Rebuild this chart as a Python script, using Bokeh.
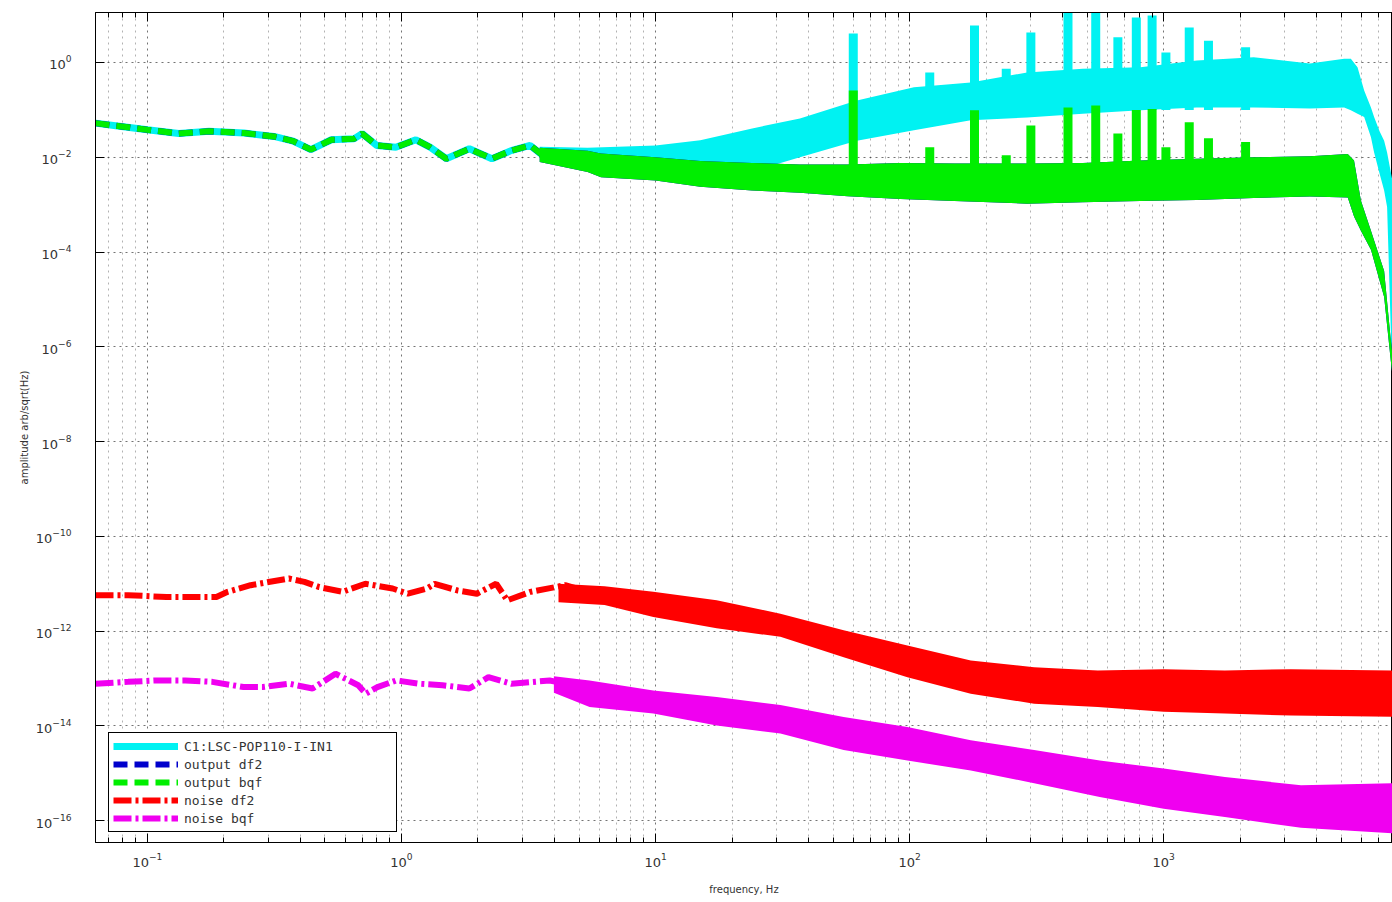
from bokeh.plotting import figure
from bokeh.models import (LogAxis, FixedTicker, CustomJSTickFormatter, LogTickFormatter,
                          Legend, LegendItem, Range1d)
from bokeh.embed import file_html
from bokeh.resources import INLINE

# ---------------- data ----------------
# low-frequency (smooth) part of the output / input spectra
f_out_smooth = [0.0625, 0.079, 0.10, 0.133, 0.175, 0.24, 0.315, 0.375, 0.44, 0.53, 0.65,
                0.70, 0.80, 0.95, 1.14, 1.30, 1.50, 1.85, 2.27, 2.70, 3.21, 3.82]
v_out_smooth = [5.25e-2, 4.47e-2, 3.80e-2, 3.16e-2, 3.55e-2, 3.24e-2, 2.75e-2, 2.19e-2,
                1.45e-2, 2.34e-2, 2.45e-2, 3.16e-2, 1.78e-2, 1.62e-2, 2.34e-2, 1.62e-2,
                9.33e-3, 1.51e-2, 9.33e-3, 1.38e-2, 1.78e-2, 8.51e-3]

# output bqf / df2 noisy band (upper and lower envelope)
f_out_band = [3.5, 5.4, 6.1, 10, 15, 24, 37, 57, 92, 150, 290, 480, 810, 1350, 2260,
              3760, 5300, 5610, 5970, 6540, 7370, 7830, 8192]
out_hi = [1.585e-2, 1.38e-2, 1.20e-2, 1.0e-2, 8.32e-3, 7.59e-3, 7.08e-3, 7.08e-3, 7.59e-3,
          7.41e-3, 7.41e-3, 7.59e-3, 8.51e-3, 9.33e-3, 1.0e-2, 1.047e-2, 1.175e-2, 8.51e-3,
          1.23e-3, 2.82e-4, 3.98e-5, 1.38e-6, 1.58e-7]
out_lo = [7.94e-3, 4.90e-3, 3.80e-3, 3.24e-3, 2.40e-3, 2.0e-3, 1.78e-3, 1.51e-3, 1.32e-3,
          1.20e-3, 1.05e-3, 1.12e-3, 1.20e-3, 1.26e-3, 1.38e-3, 1.48e-3, 1.41e-3, 5.62e-4,
          2.82e-4, 1.12e-4, 1.12e-5, 5.0e-7, 6.3e-8]

# C1:LSC-POP110-I-IN1 noisy band
f_in_band = [3.5, 5.4, 10, 15, 24, 37, 62, 104, 174, 290, 480, 810, 1350, 2260, 3760,
             5130, 5450, 5790, 6150, 6540, 6730, 7070, 7370, 7570, 7940, 8192]
in_hi = [1.66e-2, 1.585e-2, 1.78e-2, 2.29e-2, 4.07e-2, 6.61e-2, 0.158, 0.302, 0.380,
         0.617, 0.741, 0.794, 1.096, 1.288, 0.955, 1.202, 1.202, 0.794, 0.257, 0.112,
         7.08e-2, 3.55e-2, 2.24e-2, 1.26e-2, 3.24e-3, 1.26e-3]
in_lo = [1.0e-2, 7.0e-3, 5.0e-3, 5.0e-3, 5.01e-3, 1.0e-2, 2.24e-2, 3.72e-2,
         6.03e-2, 6.92e-2, 8.32e-2, 9.77e-2, 0.112, 0.112, 0.107, 0.112, 9.77e-2, 8.32e-2,
         7.08e-2, 2.63e-2, 1.26e-2, 4.57e-3, 2.0e-3, 8.91e-4, 1.78e-7, 1.0e-7]

# power-line harmonics (spikes)
spike_f = [60, 120, 180, 240, 300, 420, 540, 660, 780, 900, 1020, 1260, 1500, 2100]
spike_in_top = [4.07, 0.617, 6.03, 0.741, 4.27, 20.0, 20.0, 3.39, 8.91, 9.77, 1.62, 5.50,
                2.88, 2.09]
spike_out_top = [0.257, 1.62e-2, 9.77e-2, 1.10e-2, 4.68e-2, 0.112, 0.123, 3.16e-2, 0.100,
                 0.105, 1.62e-2, 5.50e-2, 2.51e-2, 2.09e-2]
spike_in_base = 0.1
spike_out_base = 3.0e-3

# noise df2
f_ndf2_smooth = [0.0625, 0.084, 0.119, 0.187, 0.207, 0.255, 0.304, 0.361, 0.415, 0.475,
                 0.586, 0.721, 0.923, 1.06, 1.26, 1.35, 1.66, 1.98, 2.36, 2.61, 3.22,
                 4.41, 5.43]
v_ndf2_smooth = [5.75e-12, 5.75e-12, 5.25e-12, 5.25e-12, 6.76e-12, 9.33e-12, 1.10e-11,
                 1.29e-11, 1.10e-11, 8.51e-12, 6.76e-12, 1.0e-11, 7.94e-12, 6.17e-12,
                 7.94e-12, 1.0e-11, 7.24e-12, 6.17e-12, 1.0e-11, 4.47e-12, 6.76e-12,
                 9.33e-12, 6.76e-12]
f_ndf2_band = [4.15, 6.3, 9.8, 17.4, 31, 55, 98, 174, 309, 550, 1000, 1740, 3160, 8192]
ndf2_hi = [1.0e-11, 8.91e-12, 6.76e-12, 4.47e-12, 2.34e-12, 1.05e-12, 5.01e-13, 2.40e-13,
           1.74e-13, 1.48e-13, 1.58e-13, 1.48e-13, 1.58e-13, 1.48e-13]
ndf2_lo = [4.07e-12, 3.55e-12, 2.0e-12, 1.15e-12, 7.59e-13, 2.82e-13, 1.07e-13, 4.79e-14,
           2.95e-14, 2.51e-14, 2.0e-14, 1.82e-14, 1.66e-14, 1.55e-14]

# noise bqf
f_nbqf_smooth = [0.0625, 0.084, 0.108, 0.141, 0.180, 0.239, 0.284, 0.362, 0.447, 0.550,
                 0.676, 0.724, 0.804, 0.955, 1.18, 1.45, 1.85, 2.20, 2.71, 3.83, 5.43]
v_nbqf_smooth = [7.76e-14, 8.51e-14, 9.12e-14, 9.12e-14, 8.51e-14, 6.61e-14, 6.61e-14,
                 7.76e-14, 6.17e-14, 1.26e-13, 7.24e-14, 4.79e-14, 6.61e-14, 9.12e-14,
                 7.76e-14, 7.24e-14, 6.17e-14, 1.07e-13, 7.76e-14, 9.12e-14, 6.17e-14]
f_nbqf_band = [3.98, 5.5, 9.8, 17.4, 31, 55, 98, 174, 309, 560, 1000, 1740, 3470, 8192]
nbqf_hi = [1.12e-13, 9.12e-14, 5.62e-14, 4.07e-14, 2.75e-14, 1.55e-14, 9.55e-15, 5.01e-15,
           3.09e-15, 1.86e-15, 1.26e-15, 8.32e-16, 5.62e-16, 6.17e-16]
nbqf_lo = [5.01e-14, 2.51e-14, 1.82e-14, 1.02e-14, 6.92e-15, 3.09e-15, 1.86e-15, 1.15e-15,
           6.17e-16, 3.16e-16, 1.78e-16, 1.20e-16, 7.08e-17, 5.37e-17]

labels = ["C1:LSC-POP110-I-IN1", "output df2", "output bqf", "noise df2", "noise bqf"]
x_major = [0.1, 1, 10, 100, 1000]
y_major = [1e0, 1e-2, 1e-4, 1e-6, 1e-8, 1e-10, 1e-12, 1e-14, 1e-16]

# ---------------- styling ----------------
CYAN = "#00f2f2"
BLUE = "#0000cc"
GREEN = "#00ee00"
RED = "#ff0000"
MAGENTA = "#f000f0"

x_minor = [m * 10.0 ** e for e in range(-2, 4) for m in range(2, 10)]
x_minor = [v for v in x_minor if 0.0625 <= v <= 7950]
xticker = FixedTicker(ticks=x_major, minor_ticks=x_minor)
yticker = FixedTicker(ticks=y_major, minor_ticks=[])

p = figure(width=1392, height=900, x_axis_type="log", y_axis_type="log",
           x_range=Range1d(0.0625, 7950), y_range=Range1d(3.47e-17, 11.35),
           output_backend="svg", toolbar_location=None,
           min_border_left=95, min_border_right=0, min_border_top=12, min_border_bottom=58,
           background_fill_color="white", border_fill_color="white")
p.outline_line_color = "black"
p.outline_line_width = 1

# grids
p.xgrid.ticker = xticker
p.ygrid.ticker = yticker
for g in (p.xgrid, p.ygrid):
    g.grid_line_color = "#000000"
    g.grid_line_alpha = 0.55
    g.grid_line_dash = "2 4"
    g.grid_line_width = 1
p.xgrid.minor_grid_line_color = "#000000"
p.xgrid.minor_grid_line_alpha = 0.3
p.xgrid.minor_grid_line_dash = "2 4"

# axes
for ax in (p.xaxis[0], p.yaxis[0]):
    ax.formatter = LogTickFormatter()
    ax.major_tick_in = 9
    ax.major_tick_out = 0
    ax.minor_tick_in = 5
    ax.minor_tick_out = 0
    ax.major_tick_line_color = "black"
    ax.minor_tick_line_color = "black"
    ax.axis_line_color = "black"
    ax.major_label_text_font = "DejaVu Sans"
    ax.major_label_text_font_size = "13px"
    ax.major_label_text_color = "#333333"
    ax.axis_label_text_font = "DejaVu Sans"
    ax.axis_label_text_font_size = "10px"
    ax.axis_label_text_font_style = "normal"
    ax.axis_label_text_color = "#333333"
p.xaxis[0].ticker = xticker
p.yaxis[0].ticker = yticker
p.xaxis[0].axis_label = "frequency, Hz"
p.yaxis[0].axis_label = "amplitude arb/sqrt(Hz)"
p.xaxis[0].major_label_standoff = 10
p.xaxis[0].axis_label_standoff = 14
p.yaxis[0].major_label_standoff = 24
p.yaxis[0].axis_label_standoff = 3

top_axis = LogAxis(ticker=xticker, formatter=CustomJSTickFormatter(code="return ' ';"),
                   major_tick_in=9, major_tick_out=0, minor_tick_in=5, minor_tick_out=0,
                   major_label_standoff=0, major_label_text_font_size="4px",
                   axis_line_color="black")
p.add_layout(top_axis, "above")

# ---------------- series ----------------
# C1:LSC-POP110-I-IN1 (cyan)
p.varea(x=f_in_band, y1=in_lo, y2=in_hi, fill_color=CYAN)
r_in = p.line(f_out_smooth, v_out_smooth, line_color=CYAN, line_width=7)
p.segment(x0=spike_f, y0=[spike_in_base] * len(spike_f), x1=spike_f, y1=spike_in_top,
          line_color=CYAN, line_width=9)

# output df2 (blue, hidden below output bqf)
p.varea(x=f_out_band, y1=out_lo, y2=out_hi, fill_color=BLUE)
r_df2 = p.line(f_out_smooth, v_out_smooth, line_color=BLUE, line_width=6,
               line_dash="14 7")

# output bqf (green)
p.varea(x=f_out_band, y1=out_lo, y2=out_hi, fill_color=GREEN)
r_bqf = p.line(f_out_smooth, v_out_smooth, line_color=GREEN, line_width=6,
               line_dash="14 7")
p.segment(x0=spike_f, y0=[spike_out_base] * len(spike_f), x1=spike_f, y1=spike_out_top,
          line_color=GREEN, line_width=9)

# noise df2 (red)
p.varea(x=f_ndf2_band, y1=ndf2_lo, y2=ndf2_hi, fill_color=RED)
r_ndf2 = p.line(f_ndf2_smooth, v_ndf2_smooth, line_color=RED, line_width=6,
                line_dash="18 4 3 4")

# noise bqf (magenta)
p.varea(x=f_nbqf_band, y1=nbqf_lo, y2=nbqf_hi, fill_color=MAGENTA)
r_nbqf = p.line(f_nbqf_smooth, v_nbqf_smooth, line_color=MAGENTA, line_width=6,
                line_dash="18 4 3 4")

legend = Legend(items=[LegendItem(label=labels[0], renderers=[r_in]),
                       LegendItem(label=labels[1], renderers=[r_df2]),
                       LegendItem(label=labels[2], renderers=[r_bqf]),
                       LegendItem(label=labels[3], renderers=[r_ndf2]),
                       LegendItem(label=labels[4], renderers=[r_nbqf])],
                location=(13, 10), border_line_color="black", border_line_width=1,
                border_line_alpha=1, background_fill_color="white",
                background_fill_alpha=1, label_text_font="DejaVu Sans Mono",
                label_text_font_size="13px", label_text_color="#333333",
                glyph_width=65, glyph_height=18, label_height=18, spacing=0,
                padding=4, margin=0, label_standoff=6, label_width=208)
p.add_layout(legend)

open("out.html", "w").write(file_html(p, INLINE))
